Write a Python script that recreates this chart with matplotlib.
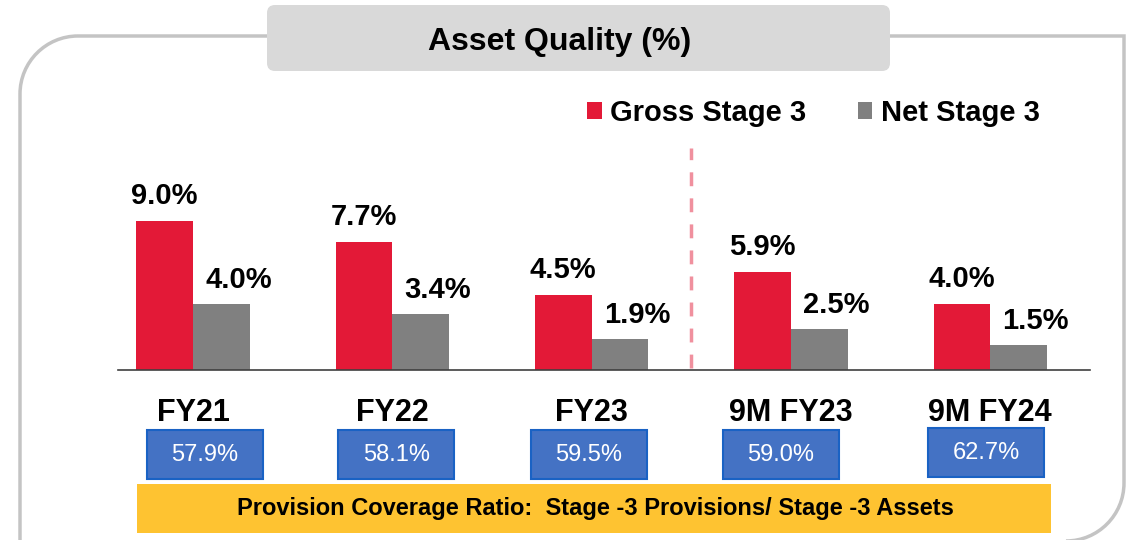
import matplotlib.pyplot as plt
import matplotlib.patches as mpatches
from matplotlib.path import Path
import numpy as np

plt.rcParams['font.family'] = ['Liberation Sans', 'DejaVu Sans']

# data
categories = ['FY21', 'FY22', 'FY23', '9M FY23', '9M FY24']
gross_stage3 = [9.0, 7.7, 4.5, 5.9, 4.0]
net_stage3 = [4.0, 3.4, 1.9, 2.5, 1.5]
pcr = [57.9, 58.1, 59.5, 59.0, 62.7]

title = 'Asset Quality (%)'
pcr_note = 'Provision Coverage Ratio:  Stage -3 Provisions/ Stage -3 Assets'

RED = '#e31937'
GREY = '#808080'
BLUE = '#4472c4'
YELLOW = '#fec331'

W, H = 1134, 540
fig = plt.figure(figsize=(W / 100, H / 100), dpi=100)

# background axes in pixel coords (y down) for the frame / boxes
bg = fig.add_axes([0, 0, 1, 1])
bg.set_xlim(0, W)
bg.set_ylim(H, 0)
bg.axis('off')

# outer frame: rounded top-left and bottom-right corners
r = 58
k = 0.5523 * r
L, T, R, B = 20, 36, 1124, 541
verts = [(L, H + 20), (L, T + r),
         (L, T + r - k), (L + r - k, T), (L + r, T),
         (R, T), (R, B - r),
         (R, B - r + k), (R - r + k, B), (R - r, B)]
codes = [Path.MOVETO, Path.LINETO,
         Path.CURVE4, Path.CURVE4, Path.CURVE4,
         Path.LINETO, Path.LINETO,
         Path.CURVE4, Path.CURVE4, Path.CURVE4]
bg.add_patch(mpatches.PathPatch(Path(verts, codes), fill=False,
                                edgecolor='#c4c4c4', lw=2.5, zorder=1))

# header box
bg.add_patch(mpatches.FancyBboxPatch((267, 5), 623, 66,
                                     boxstyle='round,pad=0,rounding_size=8',
                                     facecolor='#d9d9d9', edgecolor='none', zorder=2))
bg.text(560, 42, title, ha='center', va='center', fontsize=23,
        fontweight='bold', zorder=3)

# bar chart axes: baseline at y=370px, 16.56 px per %
base_px, top_px = 370, 140
left_px, right_px = 118, 1090
gap = 199.3
x0 = (left_px - 193) / gap
x1 = (right_px - 193) / gap
ax = fig.add_axes([left_px / W, (H - base_px) / H,
                   (right_px - left_px) / W, (base_px - top_px) / H])
ax.set_xlim(x0, x1)
ax.set_ylim(0, (base_px - top_px) / 16.56)
ax.patch.set_alpha(0)

x = np.arange(len(categories))
bw = 56.7 / gap
rb = ax.bar(x - bw / 2, gross_stage3, bw, color=RED, label='Gross Stage 3', zorder=2)
gb = ax.bar(x + bw / 2, net_stage3, bw, color=GREY, label='Net Stage 3', zorder=2)

for i in range(len(categories)):
    ax.annotate(f'{gross_stage3[i]:.1f}%', (x[i] - bw / 2, gross_stage3[i]),
                xytext=(0, 25), textcoords='offset pixels', ha='center',
                va='center', fontsize=21, fontweight='bold')
    ax.annotate(f'{net_stage3[i]:.1f}%', (x[i] + bw / 2, net_stage3[i]),
                xytext=(17, 24), textcoords='offset pixels', ha='center',
                va='center', fontsize=21, fontweight='bold')

# divider between full years and 9M periods
ax.vlines(2.5, 0.12, (base_px - 148) / 16.56, colors='#f0909e', lw=2.5,
          linestyles=(0, (4, 3.5)), zorder=1)

for s in ['top', 'right', 'left']:
    ax.spines[s].set_visible(False)
ax.spines['bottom'].set_color('#404040')
ax.spines['bottom'].set_linewidth(1.2)
ax.set_yticks([])
ax.set_xticks(x)
ax.set_xticklabels(categories, fontsize=22, fontweight='bold')
ax.tick_params(axis='x', length=0, pad=20)

ax.legend(loc='center left', bbox_to_anchor=(587 / W, (H - 113) / H),
          bbox_transform=fig.transFigure, ncol=2, frameon=False,
          prop={'size': 21, 'weight': 'bold'}, handlelength=0.5,
          handleheight=0.5, handletextpad=0.3, columnspacing=1.75,
          borderpad=0, borderaxespad=0)

# PCR boxes under each category
fig.canvas.draw()
box_shift = [12, 4, -3, -10, -4]
box_top = [430, 430, 430, 430, 428]
for i, v in enumerate(pcr):
    cx = ax.transData.transform((x[i], 0))[0] + box_shift[i]
    bg.add_patch(mpatches.Rectangle((cx - 58, box_top[i]), 116, 49,
                                    facecolor=BLUE, edgecolor='#1a62c4',
                                    lw=1.5, zorder=2))
    bg.text(cx, box_top[i] + 25, f'{v:.1f}%', ha='center', va='center',
            color='white', fontsize=17, zorder=3)

# yellow banner
bg.add_patch(mpatches.Rectangle((137, 484), 914, 49, facecolor=YELLOW,
                                edgecolor='none', zorder=2))
bg.text(595, 509, pcr_note, ha='center', va='center', fontsize=17,
        fontweight='bold', zorder=3)

fig.savefig('out.png', dpi=100)
